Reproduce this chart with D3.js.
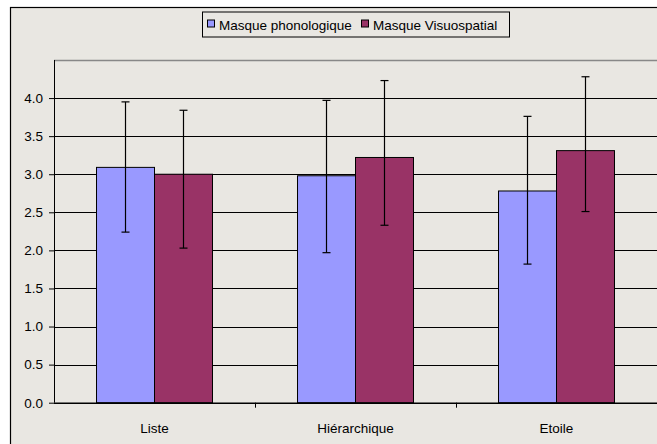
<!DOCTYPE html>
<html lang="fr">
<head>
<meta charset="utf-8">
<style>
  html, body { margin: 0; padding: 0; background: white; }
  svg { display: block; font-family: Arial, 'Liberation Sans', sans-serif; }
  .axis text { fill: #000; font-size: 13.5px; }
  .axis path, .axis line { stroke: #000; }
</style>
</head>
<body>
<svg width="657" height="444"></svg>
<script src="https://cdnjs.cloudflare.com/ajax/libs/d3/7.8.5/d3.min.js"></script>
<script>
// data
const categories = ["Liste", "Hiérarchique", "Etoile"]
const series = ["Masque phonologique", "Masque Visuospatial"]
const colors = ["#9999FF", "#993366"]
const phonMean = [3.09, 2.98, 2.78]
const phonLow  = [2.24, 1.97, 1.82]
const phonHigh = [3.95, 3.97, 3.76]
const visuoMean = [3.00, 3.22, 3.31]
const visuoLow  = [2.03, 2.33, 2.51]
const visuoHigh = [3.84, 4.23, 4.28]
const yTicks = [0, 0.5, 1, 1.5, 2, 2.5, 3, 3.5, 4]

const rows = []
categories.forEach(function (c, i) {
  rows.push({ cat: c, s: series[0], v: phonMean[i], lo: phonLow[i], hi: phonHigh[i] })
  rows.push({ cat: c, s: series[1], v: visuoMean[i], lo: visuoLow[i], hi: visuoHigh[i] })
})

const svg = d3.select("svg")
const plotLeft = 54, plotRight = 657, plotTop = 60, plotBottom = 402.7

// chart frame (cut by the picture on the right and bottom)
svg.append("rect")
  .attr("x", 10.5).attr("y", 7.5)
  .attr("width", 700).attr("height", 500)
  .attr("fill", "#E9E7E2").attr("stroke", "#000").attr("stroke-width", 1.2)

const x0 = d3.scaleBand().domain(categories).range([plotLeft, plotRight])
const x1 = d3.scaleBand().domain(series).range([0, x0.bandwidth()])
  .paddingInner(0).paddingOuter(0.733)
const y = d3.scaleLinear().domain([0, 4.5]).range([plotBottom, plotTop])

// plot area top edge
svg.append("line")
  .attr("x1", plotLeft).attr("x2", plotRight + 10)
  .attr("y1", Math.round(y(4.5)) + 0.5).attr("y2", Math.round(y(4.5)) + 0.5)
  .attr("stroke", "#888").attr("stroke-width", 1.5)

// gridlines
svg.append("g").selectAll("line")
  .data(yTicks.filter(function (d) { return d > 0 }))
  .join("line")
  .attr("x1", plotLeft).attr("x2", plotRight + 10)
  .attr("y1", function (d) { return Math.round(y(d)) + 0.5 })
  .attr("y2", function (d) { return Math.round(y(d)) + 0.5 })
  .attr("stroke", "#000").attr("stroke-width", 1)

// bars
svg.append("g").selectAll("rect")
  .data(rows)
  .join("rect")
  .attr("x", function (d) { return x0(d.cat) + x1(d.s) })
  .attr("width", x1.bandwidth())
  .attr("y", function (d) { return y(d.v) })
  .attr("height", function (d) { return y(0) - y(d.v) })
  .attr("fill", function (d) { return colors[series.indexOf(d.s)] })
  .attr("stroke", "#000").attr("stroke-width", 1)

// error bars
const err = svg.append("g").attr("stroke", "#000").attr("stroke-width", 1.2)
rows.forEach(function (d) {
  const cx = x0(d.cat) + x1(d.s) + x1.bandwidth() / 2
  err.append("line").attr("x1", cx).attr("x2", cx)
    .attr("y1", y(d.hi)).attr("y2", y(d.lo))
  err.append("line").attr("x1", cx - 4).attr("x2", cx + 4)
    .attr("y1", y(d.hi)).attr("y2", y(d.hi))
  err.append("line").attr("x1", cx - 4).attr("x2", cx + 4)
    .attr("y1", y(d.lo)).attr("y2", y(d.lo))
})

// y axis
svg.append("g")
  .attr("class", "axis")
  .attr("transform", "translate(" + plotLeft + ",0)")
  .call(d3.axisLeft(y).tickValues(yTicks).tickFormat(d3.format(".1f"))
    .tickSizeInner(5).tickSizeOuter(0).tickPadding(6))
  .call(function (g) {
    g.select(".domain").attr("d", "M0.5," + plotTop + "V" + plotBottom)
  })

// x axis
const xg = svg.append("g")
  .attr("class", "axis")
  .attr("transform", "translate(0," + plotBottom + ")")
xg.append("line").attr("x1", plotLeft).attr("x2", plotRight + 10)
  .attr("y1", 0.5).attr("y2", 0.5).attr("stroke", "#000").attr("stroke-width", 1.5)
xg.selectAll("line.tick")
  .data(categories.slice(1))
  .join("line")
  .attr("class", "tick")
  .attr("x1", function (d) { return Math.round(x0(d)) + 0.5 })
  .attr("x2", function (d) { return Math.round(x0(d)) + 0.5 })
  .attr("y1", 0).attr("y2", 5)
xg.selectAll("text")
  .data(categories)
  .join("text")
  .attr("x", function (d) { return x0(d) + x0.bandwidth() / 2 })
  .attr("y", 30.5)
  .attr("text-anchor", "middle")
  .text(function (d) { return d })

// legend
const lg = svg.append("g").attr("transform", "translate(202,11.5)")
lg.append("rect").attr("x", 0.5).attr("y", 0.5).attr("width", 307).attr("height", 25)
  .attr("fill", "#E9E7E2").attr("stroke", "#000").attr("stroke-width", 1)
const items = lg.selectAll("g.item")
  .data(series)
  .join("g")
  .attr("class", "item")
  .attr("transform", function (d, i) { return "translate(" + (i === 0 ? 5.5 : 159.5) + ",8.5)" })
items.append("rect")
  .attr("width", 7).attr("height", 7)
  .attr("fill", function (d, i) { return colors[i] })
  .attr("stroke", "#000").attr("stroke-width", 1)
items.append("text")
  .attr("x", 11.5).attr("y", 9.5)
  .attr("font-size", "13.5px")
  .text(function (d) { return d })
</script>
</body>
</html>
